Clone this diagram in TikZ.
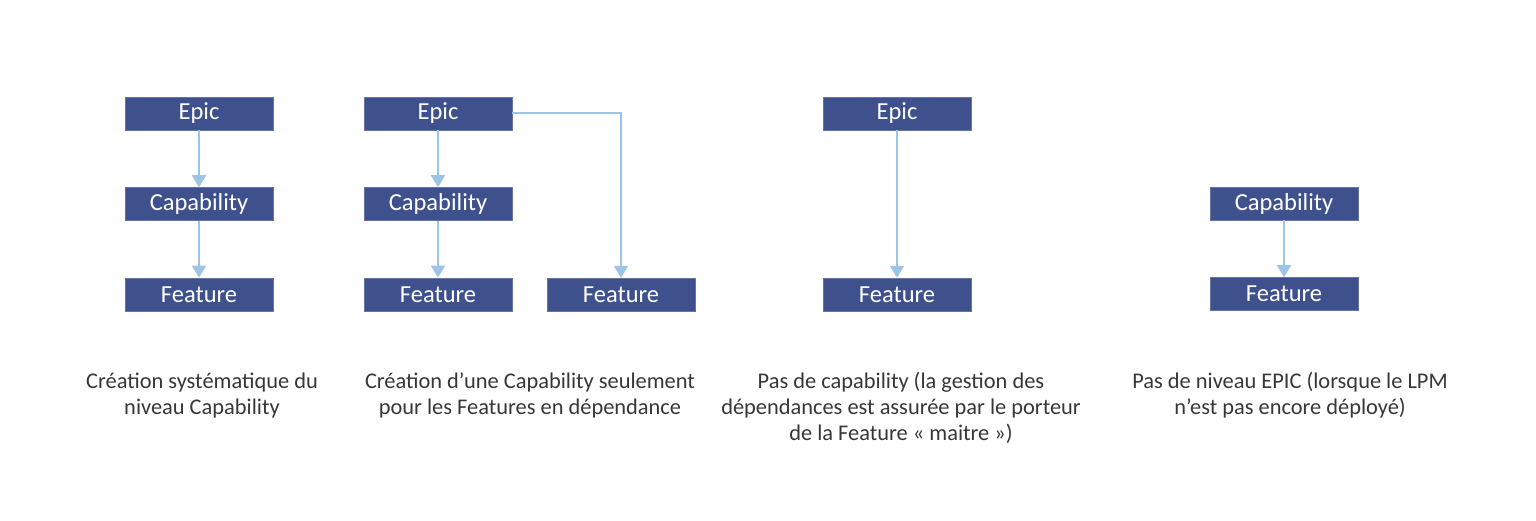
\documentclass[tikz,border=0pt]{standalone}
\usepackage{fontspec}
\setmainfont{Carlito}
\usetikzlibrary{arrows.meta,positioning}
\definecolor{boxblue}{RGB}{63,81,141}
\definecolor{linkblue}{RGB}{157,195,230}
\definecolor{captiongray}{RGB}{55,55,55}

\begin{document}
\begin{tikzpicture}[x=1pt,y=-1pt,node distance=57pt,
    % node attributes
    levelbox/.style = {
        shape=rectangle,
        fill=boxblue,
        draw=boxblue!80!white,
        minimum width=148pt,
        minimum height=33pt,
        inner sep=0pt,
        text=white,
        font=\fontsize{24.5}{28}\selectfont},
    caption/.style = {
        align=center,
        text=captiongray,
        font=\fontsize{22.4}{26}\selectfont},
    link/.style = {
        draw=linkblue,
        line width=2pt,
        -{Triangle[width=14pt,length=12pt]}}]
    \useasboundingbox (0,0) rectangle (1536,521);
    % first layout
    \node[levelbox] (epicA) at (199,113.5) {Epic};
    \node[levelbox, below=of epicA] (capA) {Capability};
    \node[levelbox, below=of capA] (featA) {Feature};
    \draw[link] (epicA) -- (capA);
    \draw[link] (capA) -- (featA);
    % second layout
    \node[levelbox] (epicB) at (438,113.5) {Epic};
    \node[levelbox, below=of epicB] (capB) {Capability};
    \node[levelbox, below=of capB] (featB) {Feature};
    \node[levelbox] (featBB) at (621,294.5) {Feature};
    \draw[link] (epicB) -- (capB);
    \draw[link] (capB) -- (featB);
    \draw[link] (epicB.east) -| (featBB.north);
    % third layout
    \node[levelbox] (epicC) at (897,113.5) {Epic};
    \node[levelbox] (featC) at (897,294.5) {Feature};
    \draw[link] (epicC) -- (featC);
    % fourth layout
    \node[levelbox] (capD) at (1284,203.5) {Capability};
    \node[levelbox, below=of capD] (featD) {Feature};
    \draw[link] (capD) -- (featD);
    % captions
    \node[caption, anchor=north] (capTextA) at (202,369) {Création systématique du\\niveau Capability};
    \node[caption, anchor=north] (capTextB) at (530,369) {Création d’une Capability seulement\\pour les Features en dépendance};
    \node[caption, anchor=north] (capTextC) at (901,369) {Pas de capability (la gestion des\\dépendances est assurée par le porteur\\de la Feature « maitre »)};
    \node[caption, anchor=north] (capTextD) at (1290,369) {Pas de niveau EPIC (lorsque le LPM\\n’est pas encore déployé)};
\end{tikzpicture}
\end{document}
